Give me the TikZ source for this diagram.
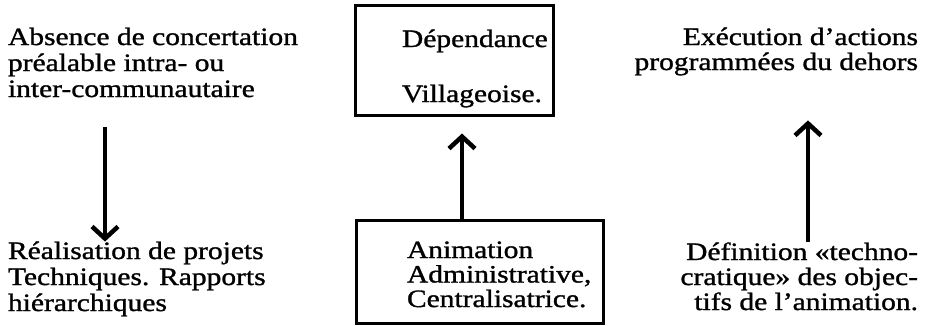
\documentclass[tikz,border=0pt]{standalone}
\usepackage{fontspec}
\setmainfont[FakeStretch=1.18,FakeBold=1.2]{Liberation Serif}
\usetikzlibrary{arrows.meta}
\begin{document}
\begin{tikzpicture}[x=1pt,y=-1pt,
  txt/.style={font=\fontsize{25}{26}\selectfont, inner sep=0pt, outer sep=0pt},
  box/.style={draw, line width=3pt, inner sep=0pt},
  arr/.style={line width=3.4pt, -{Straight Barb[length=12pt,width=26pt,line width=4.5pt]}}]
\useasboundingbox (0,0) rectangle (927,325);
% left column (anchor = baseline of the last line)
\node[txt, align=left, anchor=base west] (A) at (8,97)
  {Absence de concertation\\préalable intra- ou\\inter-communautaire};
\node[txt, align=left, anchor=base west] (B) at (8,311)
  {Réalisation de projets\\Techniques. Rapports\\hiérarchiques};
% centre column
\node[box, minimum width=198pt, minimum height=110pt] (top) at (454,60) {};
\node[txt, align=left, anchor=base west] (topT) at (402,102)
  {Dépendance\\[29pt]Villageoise.};
\node[box, minimum width=247pt, minimum height=103pt] (bot) at (479.5,271.5) {};
\node[txt, align=left, anchor=base west] (botT) at (407,307)
  {Animation\\[-1.5pt]Administrative,\\[-1.5pt]Centralisatrice.};
% right column
\node[txt, align=right, anchor=base east] (C) at (918,70)
  {Exécution d’actions\\[-1pt]programmées du dehors};
\node[txt, align=right, anchor=base east] (D) at (918,310)
  {Définition «techno-\\[-1pt]cratique» des objec-\\[-1pt]tifs de l’animation.};
% arrows
\coordinate (ax) at (105,0);
\coordinate (cx) at (462,0);
\coordinate (rx) at (808,0);
\draw[arr] (A.south -| ax) ++(0,30) coordinate (a1) (a1) -- (B.north -| ax);
\draw[arr, shorten >=17pt] (bot.north -| cx) -- (top.south -| cx);
\draw[arr, shorten >=45pt] (D.north -| rx) -- (C.south -| rx);
\end{tikzpicture}
\end{document}
